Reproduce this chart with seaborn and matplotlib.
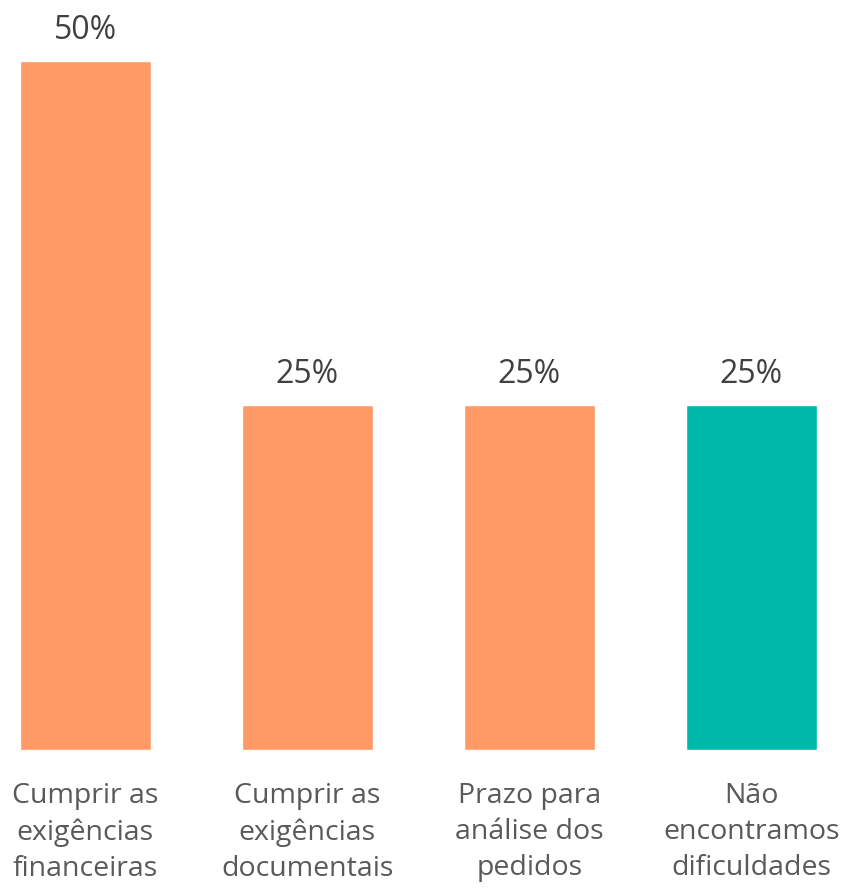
import matplotlib
matplotlib.use("Agg")
import matplotlib.pyplot as plt
import seaborn as sns
import pandas as pd

# Data
categories = ["Cumprir as\nexigências\nfinanceiras",
              "Cumprir as\nexigências\ndocumentais",
              "Prazo para\nanálise dos\npedidos",
              "Não\nencontramos\ndificuldades"]
values = [0.50, 0.25, 0.25, 0.25]
bar_colors = ["#FF9966", "#FF9966", "#FF9966", "#00B8AA"]

df = pd.DataFrame({"cat": categories, "val": values})

sns.set_style("white")
plt.rcParams['font.family'] = ['Open Sans', 'DejaVu Sans']

fig = plt.figure(figsize=(8.43, 8.88), dpi=100)
ax = fig.add_axes([0, 138 / 888, 1, 689 / 888])

sns.barplot(data=df, x="cat", y="val", hue="cat", palette=bar_colors,
            width=0.59, legend=False, ax=ax, saturation=1)

ax.set_xlim(-0.385, 3.414)
ax.set_ylim(0, 0.5)

# Value labels
for i, v in enumerate(values):
    ax.text(i, v + 0.016, f"{v:.0%}", ha="center", va="baseline",
            fontsize=23, color="#404040", clip_on=False)

ax.set_xlabel("")
ax.set_ylabel("")
ax.set_yticks([])
ax.tick_params(axis="x", length=0, pad=23)
for lbl in ax.get_xticklabels():
    lbl.set_fontsize(20.5)
    lbl.set_color("#595959")
    lbl.set_linespacing(1.39)
sns.despine(ax=ax, left=True, bottom=True)

fig.savefig("out.png", dpi=100)
